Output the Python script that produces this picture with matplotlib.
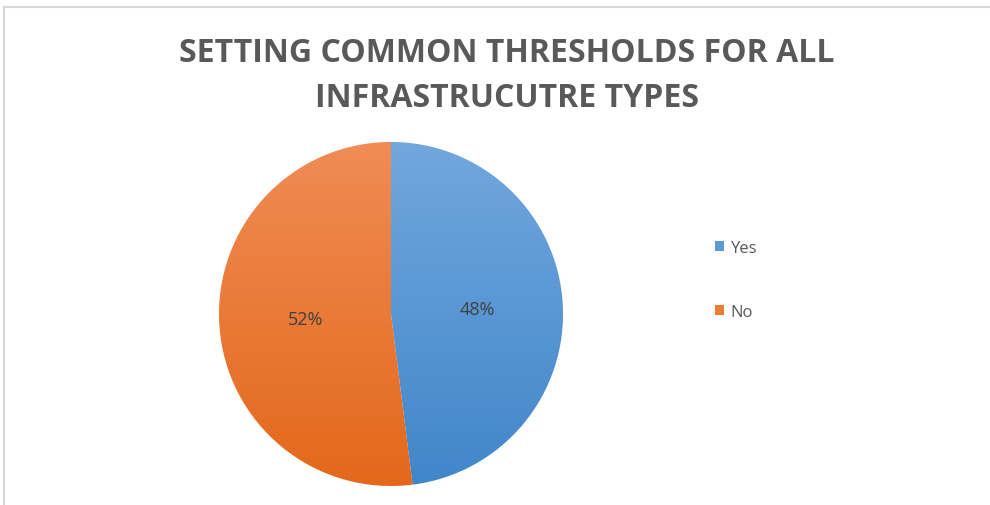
import numpy as np
import matplotlib
matplotlib.use("Agg")
import matplotlib.pyplot as plt
from matplotlib.colors import LinearSegmentedColormap
from matplotlib.patches import Rectangle

# Datos
categorias = ["Yes", "No"]
valores = [48, 52]
titulo = "SETTING COMMON THRESHOLDS FOR ALL\nINFRASTRUCUTRE TYPES"

# Colores (arriba / abajo del degradado)
col_arriba = ["#71a7dd", "#f08c55"]
col_abajo = ["#4186ca", "#e3681a"]
col_legenda = ["#5b9bd5", "#ed7d31"]

W, H = 990, 506
fig = plt.figure(figsize=(W / 100, H / 100), dpi=100)

# Marco del gráfico
fig.patches.append(Rectangle((4 / W, -0.1), 1.1, 1 - 8 / H + 0.1, transform=fig.transFigure,
                             fill=False, edgecolor="#d9d9d9", linewidth=1.5))

# Eje de la tarta
cx, cy, r = 391, 315, 172
ax = fig.add_axes([(cx - r) / W, (H - cy - r) / H, 2 * r / W, 2 * r / H])

wedges, textos, autotextos = ax.pie(
    valores, startangle=90, counterclock=False, autopct="%1.0f%%",
    pctdistance=0.5, radius=1,
    wedgeprops=dict(linewidth=0.8, edgecolor="white"),
    textprops=dict(color="#404040", fontsize=13, family="Open Sans"),
)

# Degradado vertical en cada porción
grad = np.linspace(0, 1, 256).reshape(-1, 1)
for w, ca, cb in zip(wedges, col_arriba, col_abajo):
    cmap = LinearSegmentedColormap.from_list("g", [ca, cb])
    im = ax.imshow(grad, extent=(-1, 1, -1, 1), origin="upper", cmap=cmap,
                   aspect="auto", zorder=1.5)
    im.set_clip_path(w)
for t in autotextos:
    t.set_zorder(3)

ax.set_xlim(-1, 1)
ax.set_ylim(-1, 1)
ax.set_aspect("equal")
ax.axis("off")

# Título
fig.text(507 / W, 1 - 76 / H, titulo, ha="center", va="center", fontsize=23,
         fontweight="bold", color="#595959", linespacing=1.48,
         family="Open Sans")

# Leyenda
handles = [Rectangle((0, 0), 1, 1, facecolor=c) for c in col_legenda]
fig.legend(handles, categorias, loc="center left",
           bbox_to_anchor=(700 / W, 1 - 281 / H), frameon=False,
           handlelength=0.55, handleheight=0.55, handletextpad=0.4,
           labelspacing=2.9, prop=dict(family="Open Sans", size=12),
           labelcolor="#595959")

fig.savefig("out.png", dpi=100)
